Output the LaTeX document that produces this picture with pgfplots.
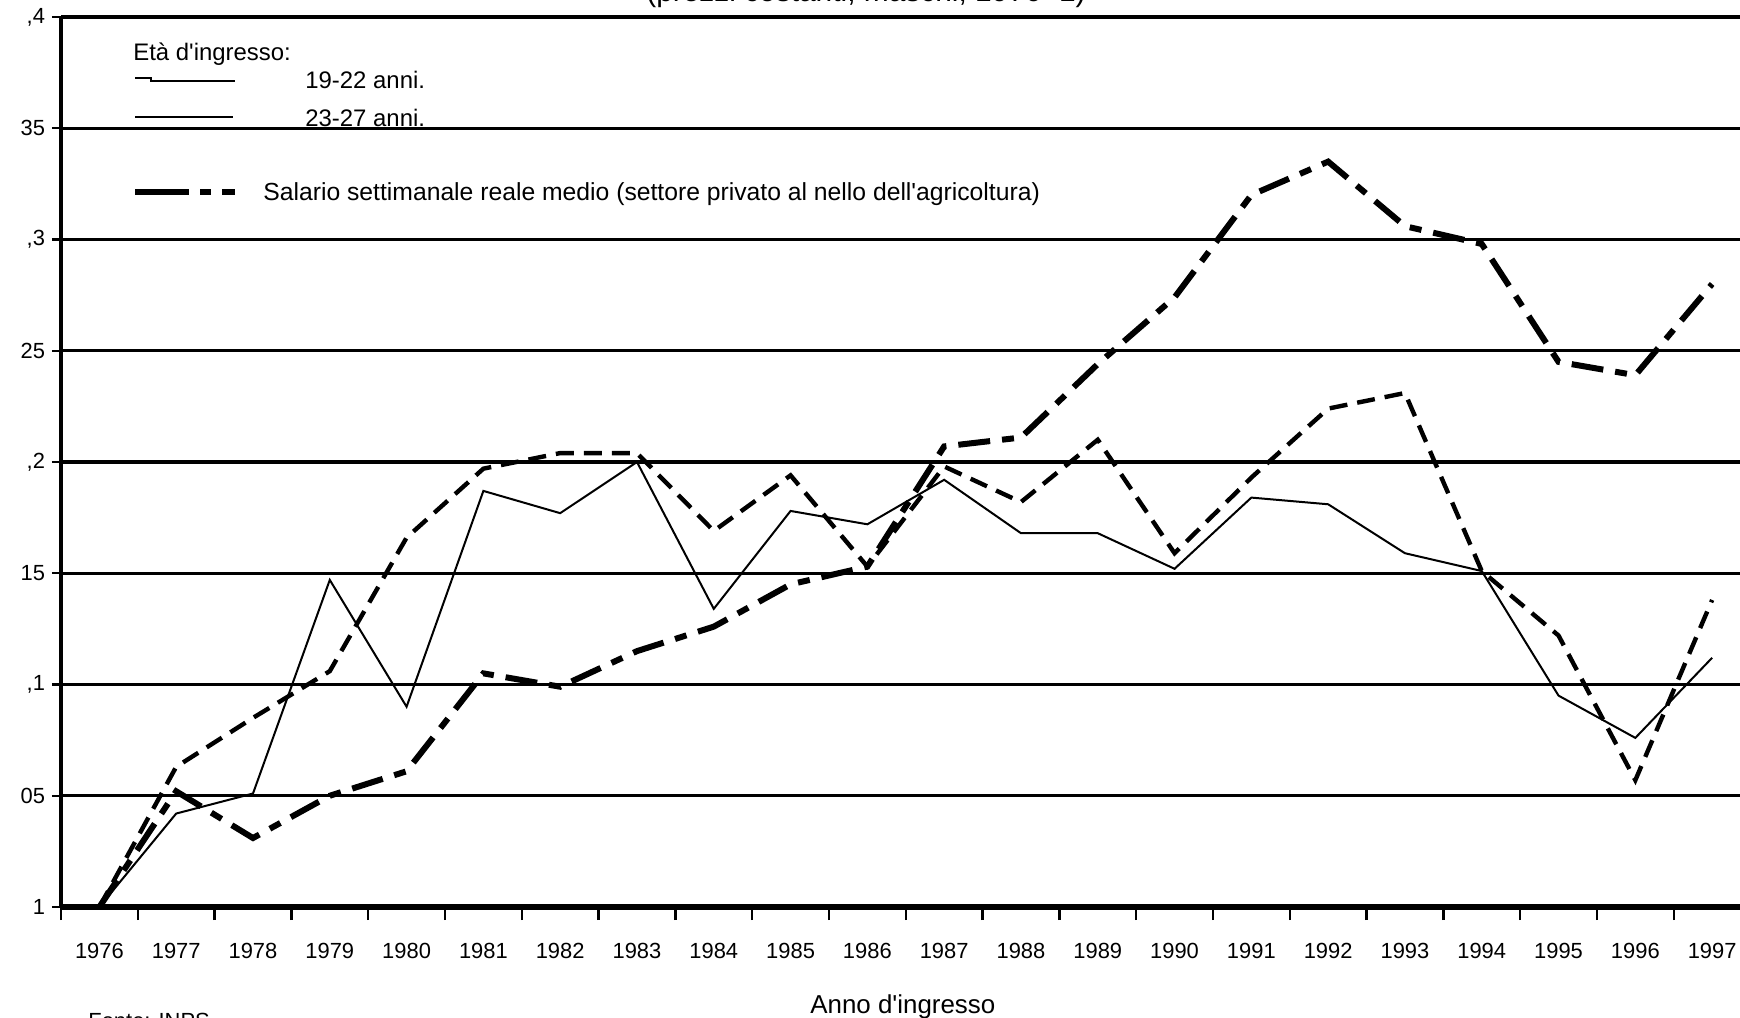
\documentclass[border=0pt]{standalone}
\usepackage{fontspec}
\setmainfont{Liberation Sans}[Ligatures=TeXOff]
\usepackage{pgfplots}
\pgfplotsset{compat=1.18}
\begin{document}
\begin{tikzpicture}
\useasboundingbox (-30.5bp,-55.5bp) rectangle (839.5bp,453.5bp);
\clip (-30.5bp,-55.5bp) rectangle (839.5bp,453.5bp);
\begin{axis}[
  at={(0,0)}, anchor=south west,
  scale only axis, width=848.6bp, height=445bp,
  xmin=-0.5, xmax=21.6, ymin=1, ymax=1.4,
  axis x line=bottom, axis y line=left,
  x axis line style={line width=2.5bp, -},
  y axis line style={line width=2bp, -},
  ymajorgrids, major grid style={line width=1.6bp, black},
  ytick={1,1.05,1.1,1.15,1.2,1.25,1.3,1.35,1.4},
  yticklabels={1,05,{,1},15,{,2},25,{,3},35,{,4}},
  xtick={0,1,2,3,4,5,6,7,8,9,10,11,12,13,14,15,16,17,18,19,20,21},
  xticklabels={1976,1977,1978,1979,1980,1981,1982,1983,1984,1985,1986,1987,1988,1989,1990,1991,1992,1993,1994,1995,1996,1997},
  minor xtick={-0.5,0.5,1.5,2.5,3.5,4.5,5.5,6.5,7.5,8.5,9.5,10.5,11.5,12.5,13.5,14.5,15.5,16.5,17.5,18.5,19.5,20.5,21.5},
  tick align=outside, major tick length=4.5bp, minor tick length=6.5bp,
  major x tick style={draw=none},
  minor x tick style={line width=1.2bp, black},
  major y tick style={line width=1.2bp, black},
  ticklabel style={font=\fontsize{11}{13}\selectfont},
  xticklabel style={yshift=-10bp},
  xlabel={Anno d'ingresso},
  xlabel style={at={(rel axis cs:0.496,0)}, anchor=center, yshift=-50bp, font=\fontsize{13}{15}\selectfont},
  clip=true,
]
% 19-22 anni (thick dashed)
\addplot[black, line width=2.2bp, dash pattern=on 9bp off 5bp] coordinates {
(0,1.000) (1,1.063) (2,1.085) (3,1.106) (4,1.166) (5,1.197) (6,1.204) (7,1.204)
(8,1.169) (9,1.194) (10,1.153) (11,1.198) (12,1.182) (13,1.210) (14,1.159) (15,1.193)
(16,1.224) (17,1.231) (18,1.151) (19,1.122) (20,1.057) (21,1.138)};
% 23-27 anni (thin solid)
\addplot[black, line width=1bp] coordinates {
(0,1.000) (1,1.042) (2,1.051) (3,1.147) (4,1.090) (5,1.187) (6,1.177) (7,1.200)
(8,1.134) (9,1.178) (10,1.172) (11,1.192) (12,1.168) (13,1.168) (14,1.152) (15,1.184)
(16,1.181) (17,1.159) (18,1.151) (19,1.095) (20,1.076) (21,1.112)};
% Salario settimanale reale medio (dash-dot)
\addplot[black, line width=3bp, dash pattern=on 16bp off 6bp on 6bp off 6bp] coordinates {
(0,1.000) (1,1.052) (2,1.031) (3,1.050) (4,1.061) (5,1.105) (6,1.099) (7,1.115)
(8,1.126) (9,1.145) (10,1.153) (11,1.207) (12,1.211) (13,1.244) (14,1.274) (15,1.320)
(16,1.335) (17,1.306) (18,1.298) (19,1.245) (20,1.239) (21,1.280)};
\end{axis}
% legend
\node[anchor=base west, inner sep=0] at (36bp,423bp) {\fontsize{12}{14}\selectfont Età d'ingresso:};
\draw[line width=1bp] (37bp,414.5bp) -- (45bp,414.5bp) -- (45bp,413bp) -- (87bp,413bp);
\node[anchor=base west, inner sep=0] at (122bp,409bp) {\fontsize{12}{14}\selectfont 19-22 anni.};
\draw[line width=1bp] (37bp,395bp) -- (86bp,395bp);
\node[anchor=base west, inner sep=0] at (122bp,390bp) {\fontsize{12}{14}\selectfont 23-27 anni.};
\draw[line width=3bp] (37bp,357.5bp) -- (64bp,357.5bp);
\draw[line width=3bp] (69.5bp,357.5bp) -- (75bp,357.5bp);
\draw[line width=3bp] (80.5bp,357.5bp) -- (87bp,357.5bp);
\node[anchor=base west, inner sep=0] at (101bp,353bp) {\fontsize{12.4}{14}\selectfont Salario settimanale reale medio (settore privato al nello dell'agricoltura)};
% cut title and source
\node[anchor=base] at (402.5bp,452.5bp) {\fontsize{15}{17}\selectfont (prezzi costanti, maschi, 1976=1)};
\node[anchor=north west, inner sep=0] at (13.5bp,-53bp) {\fontsize{11}{13}\selectfont Fonte: INPS};
\end{tikzpicture}
\end{document}
